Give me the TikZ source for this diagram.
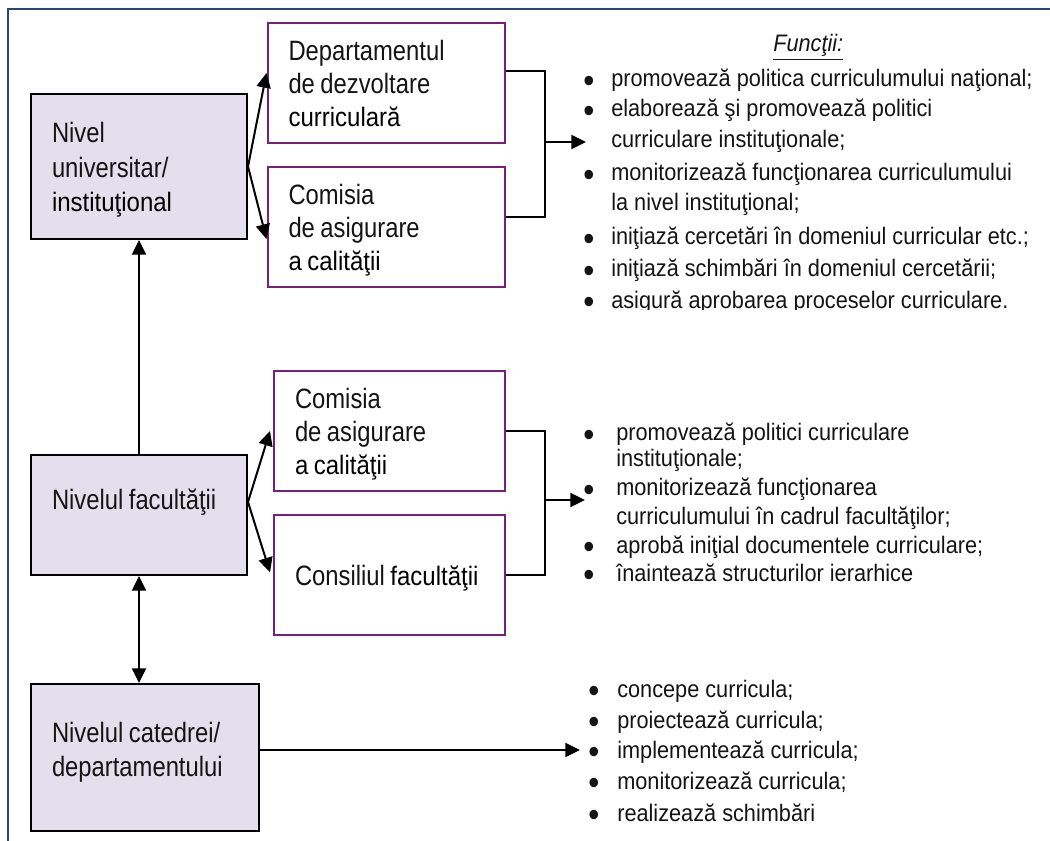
\documentclass[tikz,border=0pt]{standalone}
\usepackage{fontspec}
\setmainfont{Liberation Sans}
\newfontfamily\narrowsans[FakeStretch=0.85]{Liberation Sans}
\newfontfamily\boxsans[FakeStretch=0.9]{Liberation Sans}
\newfontfamily\listsans[FakeStretch=0.91]{Liberation Sans}
\usetikzlibrary{arrows.meta}

% one screen pixel of the layout grid
\newdimen\upx \upx=0.75pt

\definecolor{framecol}{RGB}{40,70,110}
\definecolor{lvlfill}{RGB}{228,223,236}
\definecolor{unitcol}{RGB}{118,32,122}
\definecolor{inkcol}{RGB}{20,20,20}

% condensed face for box labels, fuller face for emphasised words
\newcommand{\nf}{\narrowsans\fontsize{21}{25}\selectfont\spaceskip=5.5\upx plus 1\upx}
\newcommand{\rf}{\color{black}\boxsans\fontsize{20}{25}\selectfont\spaceskip=5.5\upx plus 1\upx}
% list bullet followed by the hanging indent of the item text
\newcommand{\bul}[1]{\makebox[#1\upx][l]{\smash{\raisebox{-4pt}{\fontsize{26}{26}\selectfont •}}}}

\tikzset{
  box/.style={rectangle, anchor=north west, align=flush left, inner xsep=21\upx,
    inner ysep=0pt, text height=0pt, font=\nf, text=inkcol},
  lvl/.style={box, draw=black, fill=lvlfill, line width=1.5pt},
  unit/.style={box, draw=unitcol, fill=white, line width=1.5pt},
  li/.style={anchor=base west, inner sep=0pt, text=inkcol,
    font=\listsans\fontsize{17.9}{20}\selectfont},
  ln/.style={draw=black, line width=1.5pt},
  arr/.style={ln, -{Triangle[length=11pt,width=10.5pt]}},
  darr/.style={ln, {Triangle[length=11pt,width=10.5pt]}-{Triangle[length=11pt,width=10.5pt]}},
}

\begin{document}
\begin{tikzpicture}[x=0.75pt,y=-0.75pt]
\useasboundingbox (0,0) rectangle (1050,841);
\fill[white] (0,0) rectangle (1050,841);

% page frame (top and left rules)
\draw[framecol, line width=2pt] (8,841) -- (8,9) -- (1050,9);

% ---------- levels ----------
\node[lvl, minimum width=216\upx, text width=174\upx, minimum height=145\upx,
      text depth=47.6\upx, font=\nf\fontsize{21}{25.9}\selectfont]
  (A) at (30,93) {Nivel\\universitar/\\{\rf instituţional}};
\node[lvl, minimum width=216\upx, text width=174\upx, minimum height=120\upx,
      text depth=11.4\upx]
  (B) at (30,454) {Nivelul facultăţii};
\node[lvl, minimum width=228\upx, text width=186\upx, minimum height=147\upx,
      text depth=29.6\upx]
  (C) at (30,683) {Nivelul catedrei/\\departamentului};

% ---------- university units ----------
\node[unit, minimum width=237\upx, text width=195\upx, minimum height=120\upx,
      text depth=45.4\upx]
  (D1) at (266.5,22) {Departamentul\\de dezvoltare\\{\rf curriculară}};
\node[unit, minimum width=237\upx, text width=195\upx, minimum height=120\upx,
      text depth=45.4\upx]
  (C1) at (266.5,166) {Comisia\\de asigurare\\{\rf a calităţii}};

% ---------- faculty units ----------
\node[unit, minimum width=230.5\upx, text width=188.5\upx, minimum height=120\upx,
      text depth=45.4\upx]
  (C2) at (273,370) {Comisia\\de asigurare\\{\rf a calităţii}};
\node[unit, minimum width=230.5\upx, text width=188.5\upx, minimum height=120\upx,
      text height=20\upx, text depth=0pt]
  (K2) at (273,514) {Consiliul {\rf facultăţii}};

% ---------- functions: university level ----------
\node[li] (fh) at (773,52) {\itshape\underline{Funcţii:}};
\node[li] (u1) at (583,86.7) {\bul{28}promovează politica curriculumului naţional;};
\node[li] (u2) at (583,116.7) {\bul{28}elaborează şi promovează politici};
\node[li] (u3) at (611,148) {curriculare instituţionale;};
\node[li] (u4) at (583,180.7) {\bul{28}monitorizează funcţionarea curriculumului};
\node[li] (u5) at (611,211) {la nivel instituţional;};
\node[li] (u6) at (583,245) {\bul{28}iniţiază cercetări în domeniul curricular etc.;};
\node[li] (u7) at (583,277) {\bul{28}iniţiază schimbări în domeniul cercetării;};
\begin{scope}
  \clip (570,290) rectangle (1050,310);
  \node[li] (u8) at (583,308.5) {\bul{28}asigură aprobarea proceselor curriculare.};
\end{scope}

% ---------- functions: faculty level ----------
\node[li] (f1) at (583,441) {\bul{33}promovează politici curriculare};
\node[li] (f2) at (616,467) {instituţionale;};
\node[li] (f3) at (583,496) {\bul{33}monitorizează funcţionarea};
\node[li] (f4) at (616,524) {curriculumului în cadrul facultăţilor;};
\node[li] (f5) at (583,553) {\bul{33}aprobă iniţial documentele curriculare;};
\node[li] (f6) at (583,581) {\bul{33}înaintează structurilor ierarhice};

% ---------- functions: department level ----------
\node[li] (d1) at (588,697) {\bul{29}concepe curricula;};
\node[li] (d2) at (588,728) {\bul{29}proiectează curricula;};
\node[li] (d3) at (588,758) {\bul{29}implementează curricula;};
\node[li] (d4) at (588,789) {\bul{29}monitorizează curricula;};
\node[li] (d5) at (588,821) {\bul{29}realizează schimbări};

% ---------- connectors ----------
\draw[arr] (B.north) -- (A.south);
\draw[darr] (B.south) -- (B.south |- C.north);

\draw[arr] (A.east) -- ([yshift=7.5pt]D1.west);
\draw[arr] (A.east) -- ([yshift=-9pt]C1.west);

\draw[arr] ([yshift=9.75pt]B.east) -- ([xshift=-2.25pt]C2.west);
\draw[arr] ([yshift=9.75pt]B.east) -- ([xshift=-2.25pt,yshift=2pt]K2.west);

\coordinate (j1) at (545,142);
\coordinate (t1) at (586,142);
\coordinate (d1r) at ([yshift=9pt]D1.east);
\coordinate (c1r) at ([yshift=7.5pt]C1.east);
\draw[ln] (d1r) -| (j1 |- c1r) -- (c1r);
\draw[arr] (j1) -- (t1);

\coordinate (j2) at (545,500);
\coordinate (t2) at (585,500);
\draw[ln] (C2.east) -| (j2 |- K2.east) -- (K2.east);
\draw[arr] (j2) -- (t2);

\coordinate (t3) at (580,750);
\draw[arr] (C.east |- t3) -- (t3);
\end{tikzpicture}
\end{document}
